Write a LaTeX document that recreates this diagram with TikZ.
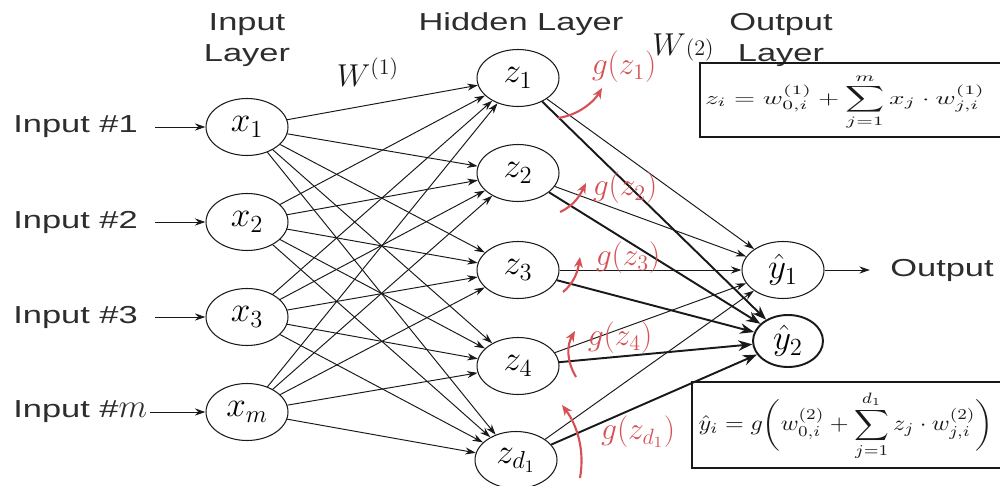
\RequirePackage{fix-cm}
\documentclass[tikz,border=0pt]{standalone}
\usepackage{amsmath}
\usepackage{graphicx}
\usepackage{fontspec}
\setmainfont{Liberation Sans}[FakeStretch=1.4]
\usetikzlibrary{shapes.geometric,arrows.meta}
\definecolor{handred}{RGB}{214,80,84}
\definecolor{ink}{RGB}{25,25,25}
\definecolor{txtgray}{RGB}{45,45,45}
\begin{document}
\begin{tikzpicture}[x=0.02cm,y=-0.02cm,
  neuron/.style={draw=ink,ellipse,minimum width=1.64cm,minimum height=1.14cm,inner sep=0pt,line width=0.6pt,font=\fontsize{20}{24}\selectfont},
  lbl/.style={font=\fontsize{14}{17.6}\selectfont,align=center,inner sep=0pt,text=txtgray},
  wire/.style={draw=ink,line width=0.55pt,-{Stealth[length=6pt,width=4pt]}},
  boldwire/.style={draw=ink,line width=1.1pt,-{Stealth[length=8pt,width=6pt]}},
  redarc/.style={draw=handred,line width=1.2pt,-{Stealth[length=6pt,width=5pt]}},
  redlbl/.style={text=handred,font=\fontsize{18}{20}\selectfont,inner sep=0pt},
  wlbl/.style={text=ink,font=\fontsize{18}{20}\selectfont,inner sep=0pt},
  formbox/.style={draw=ink,line width=0.9pt}]
\useasboundingbox (0,0) rectangle (1000,486);

% layer titles
\node[lbl] (tin) at (247,40) {Input\\Layer};
\node[lbl] (thid) at (521,24) {Hidden Layer};
\node[lbl] (tout) at (781,40) {Output\\Layer};

% input neurons
\node[neuron] (x1) at (247,127) {$x_1$};
\node[neuron] (x2) at (247,222) {$x_2$};
\node[neuron] (x3) at (247,317) {$x_3$};
\node[neuron] (xm) at (247,412) {$x_m$};

% hidden neurons
\node[neuron] (z1) at (518,78) {$z_1$};
\node[neuron] (z2) at (518,173) {$z_2$};
\node[neuron] (z3) at (518,270) {$z_3$};
\node[neuron] (z4) at (518,366) {$z_4$};
\node[neuron] (z5) at (516,460) {$z_{d_1}$};

% output neurons
\node[neuron] (y1) at (783,270) {$\hat{y}_1$};
\node[neuron,minimum width=1.4cm,minimum height=1.04cm,line width=1.1pt] (y2) at (788,341) {$\hat{y}_2$};

% inputs
\node[lbl,anchor=west] (in1) at (13,127) {Input \#1};
\node[lbl,anchor=west] (in2) at (13,222) {Input \#2};
\node[lbl,anchor=west] (in3) at (13,317) {Input \#3};
\node[lbl,anchor=west] (inm) at (13,412) {Input \#{\fontsize{19}{20}\selectfont$m$}};
\draw[wire,shorten <=0.34cm] (in1) -- (x1);
\draw[wire,shorten <=0.34cm] (in2) -- (x2);
\draw[wire,shorten <=0.34cm] (in3) -- (x3);
\draw[wire,shorten <=0.04cm] (inm) -- (xm);

% output
\node[lbl] (out) at (942,270) {Output};
\draw[wire,shorten >=0.4cm] (y1) -- (out);

% input -> hidden
\foreach \i in {1,2,3,m}
  \foreach \j in {1,...,5}
    \draw[wire] (x\i) -- (z\j);

% hidden -> output
\foreach \j in {1,...,5} {
  \draw[wire] (z\j) -- (y1);
  \draw[boldwire] (z\j) -- (y2);
}

% weight labels
\node[wlbl] (w1) at (368,72) {$W^{(1)}$};
\node[wlbl] (w2) at (683,47) {$W{\scriptstyle(2)}$};

% activation labels
\node[redlbl] (g1) at (624,67) {$g(z_1)$};
\node[redlbl] (g2) at (625,188) {$g(z_2)$};
\node[redlbl] (g3) at (628,258) {$g(z_3)$};
\node[redlbl] (g4) at (620,338) {$g(z_4)$};
\node[redlbl] (g5) at (638,432) {$g(z_{d_1})$};
\draw[redarc] (558,118) .. controls (580,115) and (595,100) .. (602,88);
\draw[redarc] (560,212) .. controls (575,205) and (580,195) .. (586,183);
\draw[redarc] (563,292) .. controls (575,282) and (578,270) .. (580,257);
\draw[redarc] (576,377) .. controls (566,360) and (567,345) .. (575,331);
\draw[redarc] (580,478) .. controls (585,450) and (577,425) .. (562,405);

% formula boxes
\node[inner sep=0pt,text=ink] (f1) at (845,102) {\resizebox*{5.6cm}{1.12cm}{$z_i = w^{(1)}_{0,i} + \displaystyle\sum_{j=1}^{m} x_j \cdot w^{(1)}_{j,i}$}};
\node[inner sep=0pt,text=ink] (f2) at (846,426) {\resizebox*{5.9cm}{1.4cm}{$\hat{y}_i = g\biggl(w^{(2)}_{0,i} + \displaystyle\sum_{j=1}^{d_1} z_j \cdot w^{(2)}_{j,i}\biggr)$}};
\draw[formbox] (1000,63) -- (700,63) -- (700,137) -- (1000,137);
\draw[formbox] (1000,382) -- (692,382) -- (692,468) -- (1000,468);
\end{tikzpicture}
\end{document}
